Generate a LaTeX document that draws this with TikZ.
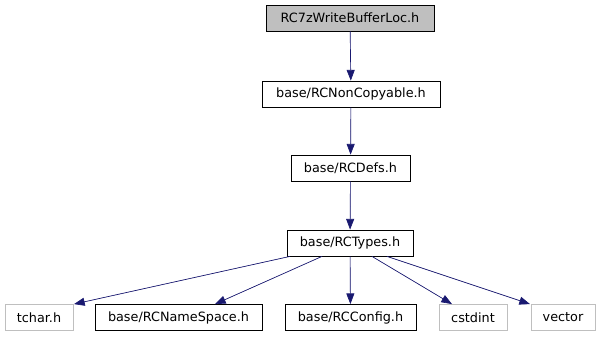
\documentclass[tikz,border=0pt]{standalone}
\usepackage{fontspec}
\setmainfont{DejaVu Sans}
\usetikzlibrary{arrows.meta}
\definecolor{edgeblue}{HTML}{191970}
\definecolor{rootfill}{HTML}{BFBFBF}
\definecolor{extgray}{HTML}{BFBFBF}
\tikzset{
  hdr/.style={draw=black, line width=0.6pt, inner sep=0pt, minimum height=26*0.75pt, font=\fontsize{9.6}{11}\selectfont},
  rootbox/.style={hdr, fill=rootfill},
  extbox/.style={hdr, draw=extgray},
  dep/.style={draw=edgeblue, line width=0.5pt, -{Triangle[length=8pt,width=6pt]}, fill=edgeblue},
}
\begin{document}
\begin{tikzpicture}[x=0.75pt, y=-0.75pt]
  \useasboundingbox (0,0) rectangle (600,336);
  \node[rootbox, minimum width=168*0.75pt] (root) at (350,18) {RC7zWriteBufferLoc.h};
  \node[hdr, minimum width=178*0.75pt] (noncopy) at (351,94) {base/RCNonCopyable.h};
  \node[hdr, minimum width=119*0.75pt] (defs) at (350.5,168) {base/RCDefs.h};
  \node[hdr, minimum width=126*0.75pt] (types) at (350,243) {base/RCTypes.h};
  \node[extbox, minimum width=68*0.75pt] (tchar) at (39,317.5) {tchar.h};
  \node[hdr, minimum width=167*0.75pt] (ns) at (178.5,317.5) {base/RCNameSpace.h};
  \node[hdr, minimum width=131*0.75pt] (config) at (350.5,317.5) {base/RCConfig.h};
  \node[extbox, minimum width=68*0.75pt] (cstdint) at (473,317.5) {cstdint};
  \node[extbox, minimum width=64*0.75pt] (vector) at (563,317.5) {vector};

  \draw[dep] (root) -- (noncopy);
  \draw[dep] (noncopy) -- (defs);
  \draw[dep] (defs) -- (types);
  \draw[dep] (types.south -| 290,0) -- (tchar.north -| 74,0);
  \draw[dep] (types.south -| 322,0) -- (ns.north -| 215,0);
  \draw[dep] (types) -- (config);
  \draw[dep] (types.south -| 372,0) -- (cstdint.north -| 452,0);
  \draw[dep] (types.south -| 387,0) -- (vector.north -| 530,0);
\end{tikzpicture}
\end{document}
